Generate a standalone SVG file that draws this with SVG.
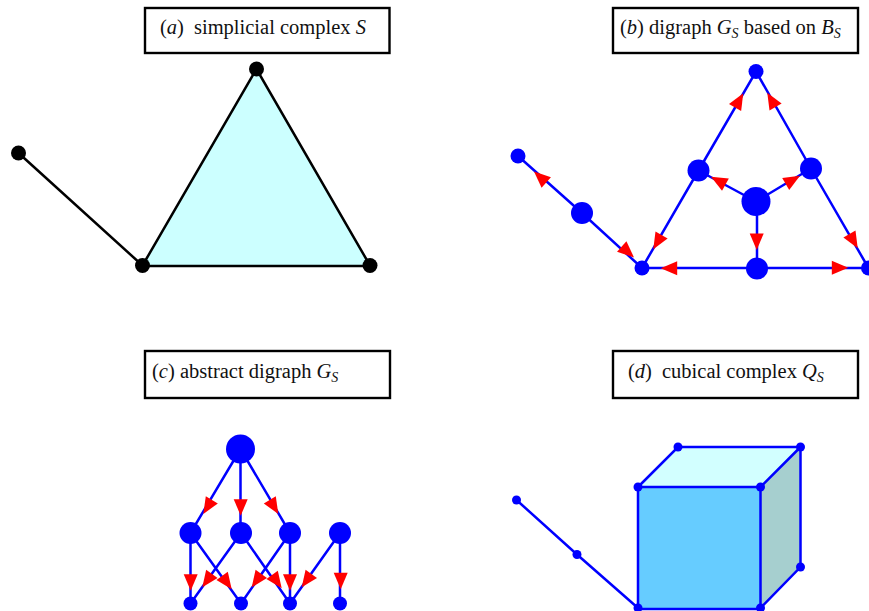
<svg xmlns="http://www.w3.org/2000/svg" width="869" height="611" viewBox="0 0 869 611">
<style>
.box{fill:#fff;stroke:#000;stroke-width:2.4}
text{font-family:"Liberation Serif","Times New Roman",serif;font-size:20.500px;fill:#111}
.i{font-style:italic}
.s{font-style:italic;font-size:14px}
.k{fill:#000}
.b{fill:#0000ff}
.ek{stroke:#000;stroke-width:2.500;fill:none}
.eb{stroke:#0000ff;stroke-width:2.500;fill:none}
.ar{fill:#ff0000}
</style>
<defs><polygon id="ah" class="ar" points="0,0 -16.500,-7 -16.500,7"/></defs>
<polygon points="256.5,69 142.5,265.5 370,265.5" fill="#ccffff"/>
<polygon points="678,447 800.5,447 760.5,487 638,487" fill="#d2ffff"/>
<polygon points="800.5,447 800.5,567 760.5,608 760.5,487" fill="#a6cfcf"/>
<rect x="638" y="487" width="122.5" height="122" fill="#66ccff"/>
<g id="titles">
<g id="title-a"><rect class="box" x="145" y="8" width="244.500" height="45"/><text x="160" y="34">(<tspan class="i">a</tspan>)<tspan x="194">simplicial complex </tspan><tspan class="i">S</tspan></text></g>
<g id="title-b"><rect class="box" x="613" y="8" width="245" height="45"/><text x="620" y="34">(<tspan class="i">b</tspan>) digraph <tspan class="i">G</tspan><tspan class="s" dy="4">S</tspan><tspan dy="-4"> based on </tspan><tspan class="i">B</tspan><tspan class="s" dy="4">S</tspan></text></g>
<g id="title-c"><rect class="box" x="145" y="351" width="245" height="47"/><text x="152" y="378">(<tspan class="i">c</tspan>) abstract digraph <tspan class="i">G</tspan><tspan class="s" dy="4">S</tspan></text></g>
<g id="title-d"><rect class="box" x="613" y="351" width="245" height="47"/><text x="628" y="378">(<tspan class="i">d</tspan>)<tspan x="662">cubical complex </tspan><tspan class="i">Q</tspan><tspan class="s" dy="4">S</tspan></text></g>
</g>
<g id="connectors">
<path class="ek" d="M18.500 153L142.500 265.500M142.500 265.500L256.500 69L370 265.500M142.500 266H370"/>
<path class="eb" d="M518 156L582 213L642 268L698.500 170.500L756 71.500L811 168.500L868.500 268M642 268H868.500M756 201.500L698.500 170.500M756 201.500L811 168.500M757 201.500V268"/>
<path class="eb" d="M240.500 449L190.500 533M240.500 449V533M240.500 449L290 533M190.500 533V603.500M190.500 533L241 603.500M241 533L190.500 603.500M241 533L290 603.500M290 533L241 603.500M290 533V603.500M340 533L290 603.500M340 533V603.500"/>
<path class="eb" d="M516.500 500L577 554.500L638 608M638 487H760.500V609H638ZM638 487L678 447H800.500V567L760.500 608M760.500 487L800.500 447"/>
<g id="arrows-b">
<use href="#ah" transform="translate(534,171.500) rotate(-138)"/>
<use href="#ah" transform="translate(634,257.500) rotate(42)"/>
<use href="#ah" transform="translate(743.300,93.300) rotate(-60)"/>
<use href="#ah" transform="translate(767.300,92.700) rotate(-120)"/>
<use href="#ah" transform="translate(653.300,249.300) rotate(120)"/>
<use href="#ah" transform="translate(857.700,248.300) rotate(60)"/>
<use href="#ah" transform="translate(711,176.700) rotate(-151)"/>
<use href="#ah" transform="translate(800,175.700) rotate(-30)"/>
<use href="#ah" transform="translate(756.700,250) rotate(90)"/>
<use href="#ah" transform="translate(660.700,268.300) rotate(180)"/>
<use href="#ah" transform="translate(848.300,267.700)"/>
</g>
<g id="arrows-c">
<use href="#ah" transform="translate(203.300,514) rotate(121)"/>
<use href="#ah" transform="translate(240.700,515.700) rotate(90)"/>
<use href="#ah" transform="translate(278.300,514) rotate(59)"/>
<use href="#ah" transform="translate(190.700,590.700) rotate(90)"/>
<use href="#ah" transform="translate(231.700,589.300) rotate(54.500)"/>
<use href="#ah" transform="translate(202.300,587.300) rotate(125.500)"/>
<use href="#ah" transform="translate(281.700,588.300) rotate(54.500)"/>
<use href="#ah" transform="translate(251.700,587.300) rotate(125.500)"/>
<use href="#ah" transform="translate(290,590.700) rotate(90)"/>
<use href="#ah" transform="translate(301.700,587.300) rotate(125.500)"/>
<use href="#ah" transform="translate(340.700,589.300) rotate(90)"/>
</g>
</g>
<g id="nodes-a">
<g id="a1"><circle class="k" cx="256.500" cy="69" r="7.500"/></g>
<g id="a2"><circle class="k" cx="142.500" cy="265.500" r="7.500"/></g>
<g id="a3"><circle class="k" cx="370" cy="265.500" r="7.500"/></g>
<g id="a4"><circle class="k" cx="18.500" cy="153" r="7.500"/></g>
</g>
<g id="nodes-b">
<g id="b1"><circle class="b" cx="756" cy="71.500" r="7.500"/></g>
<g id="b2"><circle class="b" cx="642" cy="268" r="7.500"/></g>
<g id="b3"><circle class="b" cx="868.500" cy="268" r="7.500"/></g>
<g id="b4"><circle class="b" cx="518" cy="156" r="7.500"/></g>
<g id="b5"><circle class="b" cx="582" cy="213" r="11"/></g>
<g id="b6"><circle class="b" cx="698.500" cy="170.500" r="11"/></g>
<g id="b7"><circle class="b" cx="811" cy="168.500" r="11"/></g>
<g id="b8"><circle class="b" cx="757" cy="268.500" r="11"/></g>
<g id="b9"><circle class="b" cx="756" cy="201.500" r="14.500"/></g>
</g>
<g id="nodes-c">
<g id="c1"><circle class="b" cx="240.500" cy="449" r="14.500"/></g>
<g id="c2"><circle class="b" cx="190.500" cy="533" r="11"/></g>
<g id="c3"><circle class="b" cx="241" cy="533" r="11"/></g>
<g id="c4"><circle class="b" cx="290" cy="533" r="11"/></g>
<g id="c5"><circle class="b" cx="340" cy="533" r="11"/></g>
<g id="c6"><circle class="b" cx="190.500" cy="603.500" r="7"/></g>
<g id="c7"><circle class="b" cx="241" cy="603.500" r="7"/></g>
<g id="c8"><circle class="b" cx="290" cy="603.500" r="7"/></g>
<g id="c9"><circle class="b" cx="340" cy="603.500" r="7"/></g>
</g>
<g id="nodes-d">
<g id="d1"><circle class="b" cx="516.500" cy="500" r="4.500"/></g>
<g id="d2"><circle class="b" cx="577" cy="554.500" r="4.500"/></g>
<g id="d3"><circle class="b" cx="638" cy="608" r="4.500"/></g>
<g id="d4"><circle class="b" cx="760.500" cy="608" r="4.500"/></g>
<g id="d5"><circle class="b" cx="638" cy="487" r="4.500"/></g>
<g id="d6"><circle class="b" cx="760.500" cy="487" r="4.500"/></g>
<g id="d7"><circle class="b" cx="678" cy="447" r="4.500"/></g>
<g id="d8"><circle class="b" cx="800.500" cy="447" r="4.500"/></g>
<g id="d9"><circle class="b" cx="800.500" cy="567" r="4.500"/></g>
</g>
</svg>
